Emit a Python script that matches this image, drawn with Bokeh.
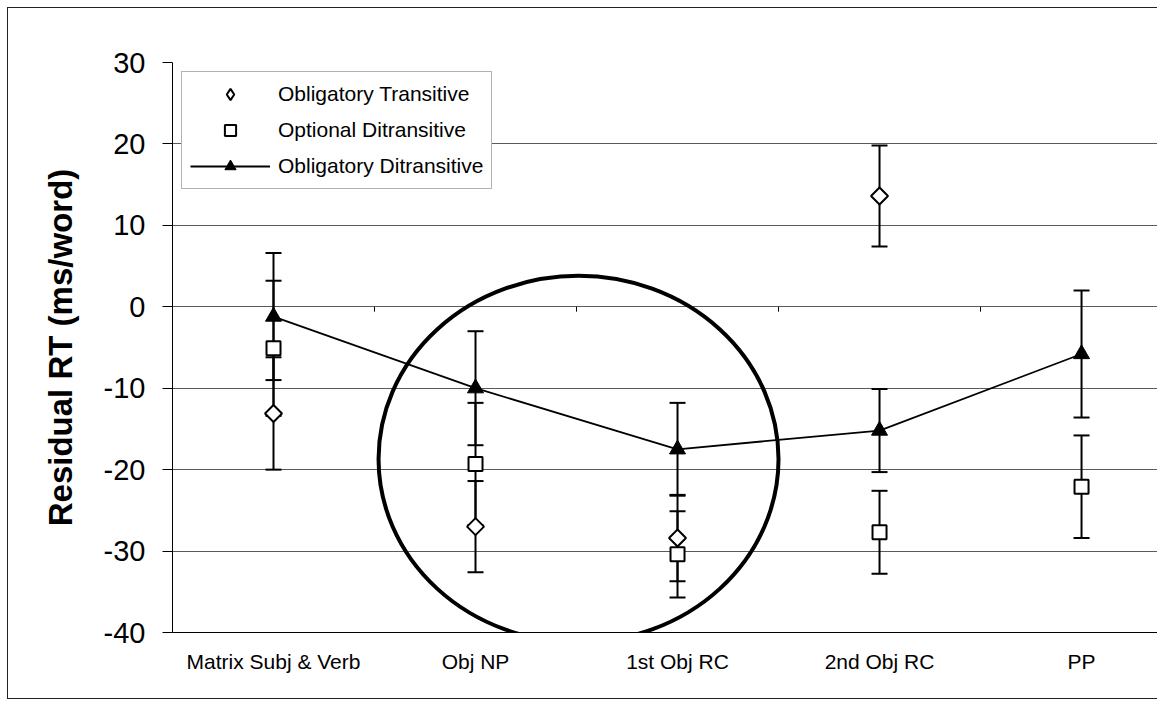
import numpy as np
from bokeh.plotting import figure
from bokeh.models import Range1d, FixedTicker, Legend, LegendItem, PrintfTickFormatter
from bokeh.embed import file_html
from bokeh.resources import INLINE

# ---------------- data ----------------
categories = ["Matrix Subj & Verb", "Obj NP", "1st Obj RC", "2nd Obj RC", "PP"]
cat_pos = [0.5, 1.5, 2.5, 3.5, 4.5]

# Obligatory Transitive (no PP region)
obl_trans = [-13.1, -27.0, -28.4, 13.6]
obl_trans_err = [6.9, 5.6, 5.3, 6.2]

# Optional Ditransitive
opt_ditrans = [-5.1, -19.3, -30.4, -27.7, -22.1]
opt_ditrans_err = [8.3, 7.5, 5.3, 5.1, 6.3]

# Obligatory Ditransitive
obl_ditrans = [-1.2, -10.0, -17.5, -15.2, -5.8]
obl_ditrans_err = [7.8, 7.0, 5.7, 5.1, 7.8]

series_names = ["Obligatory Transitive", "Optional Ditransitive", "Obligatory Ditransitive"]
y_ticks = [-40, -30, -20, -10, 0, 10, 20, 30]
y_label = "Residual RT (ms/word)"
category_bounds = [1, 2, 3, 4]

# highlight ellipse drawn on the chart (data units)
ellipse_x, ellipse_y = 2.01, -18.7
ellipse_w, ellipse_h = 1.98, 45.0

FONT = "Liberation Sans"

# ---------------- figure ----------------
p = figure(width=1150, height=692, output_backend="svg", toolbar_location=None,
           x_range=Range1d(0, 4.881), y_range=Range1d(-40, 30),
           min_border_left=164, min_border_right=0,
           min_border_top=54, min_border_bottom=68)
p.styles = {"margin-left": "7px", "margin-top": "7px",
            "border-left": "1px solid #222", "border-top": "1px solid #222",
            "border-bottom": "1px solid #222"}
p.outline_line_color = None
p.background_fill_color = "white"
p.border_fill_color = "white"

p.xgrid.visible = False
p.ygrid.ticker = FixedTicker(ticks=y_ticks)
p.ygrid.grid_line_color = "#5a5a5a"
p.ygrid.grid_line_width = 1

# y axis
ya = p.yaxis[0]
ya.ticker = FixedTicker(ticks=y_ticks)
ya.formatter = PrintfTickFormatter(format="%d")
ya.axis_line_color = "black"
ya.axis_line_width = 1
ya.major_tick_out = 10
ya.major_tick_in = 0
ya.minor_tick_out = 0
ya.minor_tick_in = 0
ya.major_tick_line_color = "black"
ya.major_label_standoff = 17
ya.major_label_text_font = FONT
ya.major_label_text_font_size = "29px"
ya.major_label_text_color = "black"
ya.axis_label = y_label
ya.axis_label_text_font = FONT
ya.axis_label_text_font_style = "bold"
ya.axis_label_text_font_size = "33px"
ya.axis_label_text_color = "black"
ya.axis_label_standoff = 22

# x axis
xa = p.xaxis[0]
xa.ticker = FixedTicker(ticks=cat_pos)
xa.major_label_overrides = {float(x): c for x, c in zip(cat_pos, categories)}
xa.axis_line_color = "black"
xa.major_tick_out = 0
xa.major_tick_in = 0
xa.minor_tick_out = 0
xa.minor_tick_in = 0
xa.major_label_standoff = 17
xa.major_label_text_font = FONT
xa.major_label_text_font_size = "21px"
xa.major_label_text_color = "black"

# category boundary ticks on the zero line
p.segment(x0=category_bounds, y0=[0] * 4, x1=category_bounds, y1=[-0.6] * 4,
          line_color="black", line_width=1)

# ---------------- error bars ----------------
def error_bars(xs, ys, es):
    lo = [y - e for y, e in zip(ys, es)]
    hi = [y + e for y, e in zip(ys, es)]
    p.segment(x0=xs, y0=lo, x1=xs, y1=hi, line_color="black", line_width=2)
    p.scatter(x=list(xs) + list(xs), y=lo + hi, marker="dash", size=16,
              line_color="black", line_width=2)

error_bars(cat_pos[:len(obl_trans)], obl_trans, obl_trans_err)
error_bars(cat_pos, opt_ditrans, opt_ditrans_err)
error_bars(cat_pos, obl_ditrans, obl_ditrans_err)

# ---------------- series ----------------
r_line = p.line(cat_pos, obl_ditrans, line_color="black", line_width=1.8)
r_diam = p.scatter(x=cat_pos[:len(obl_trans)], y=obl_trans, marker="square",
                   angle=np.pi / 4, size=12, fill_color="white",
                   line_color="black", line_width=2)
r_sq = p.scatter(x=cat_pos, y=opt_ditrans, marker="square", size=14,
                 fill_color="white", line_color="black", line_width=2)
r_tri = p.scatter(x=cat_pos, y=obl_ditrans, marker="triangle", size=16,
                  fill_color="black", line_color="black")

# legend swatch for the diamond series (legend ignores marker angle); hidden on the plot
r_diam_key = p.scatter(x=cat_pos[:len(obl_trans)], y=obl_trans, marker="diamond",
                       size=14, fill_color="white", line_color="black",
                       line_width=2, visible=False)

# highlight ellipse
p.ellipse(x=[ellipse_x], y=[ellipse_y], width=[ellipse_w], height=[ellipse_h],
          fill_color=None, line_color="black", line_width=4)

# ---------------- legend ----------------
legend = Legend(items=[
    LegendItem(label=series_names[0], renderers=[r_diam_key]),
    LegendItem(label=series_names[1], renderers=[r_sq]),
    LegendItem(label=series_names[2], renderers=[r_line, r_tri]),
], location="top_left")
legend.margin = 9
legend.padding = 8
legend.spacing = 8
legend.glyph_width = 80
legend.glyph_height = 28
legend.label_height = 28
legend.label_standoff = 8
legend.label_text_font = FONT
legend.label_text_font_size = "21px"
legend.label_text_color = "black"
legend.border_line_color = "#666666"
legend.border_line_width = 1
legend.background_fill_color = "white"
legend.background_fill_alpha = 1.0
p.add_layout(legend)

open("out.html", "w").write(file_html(p, INLINE))
